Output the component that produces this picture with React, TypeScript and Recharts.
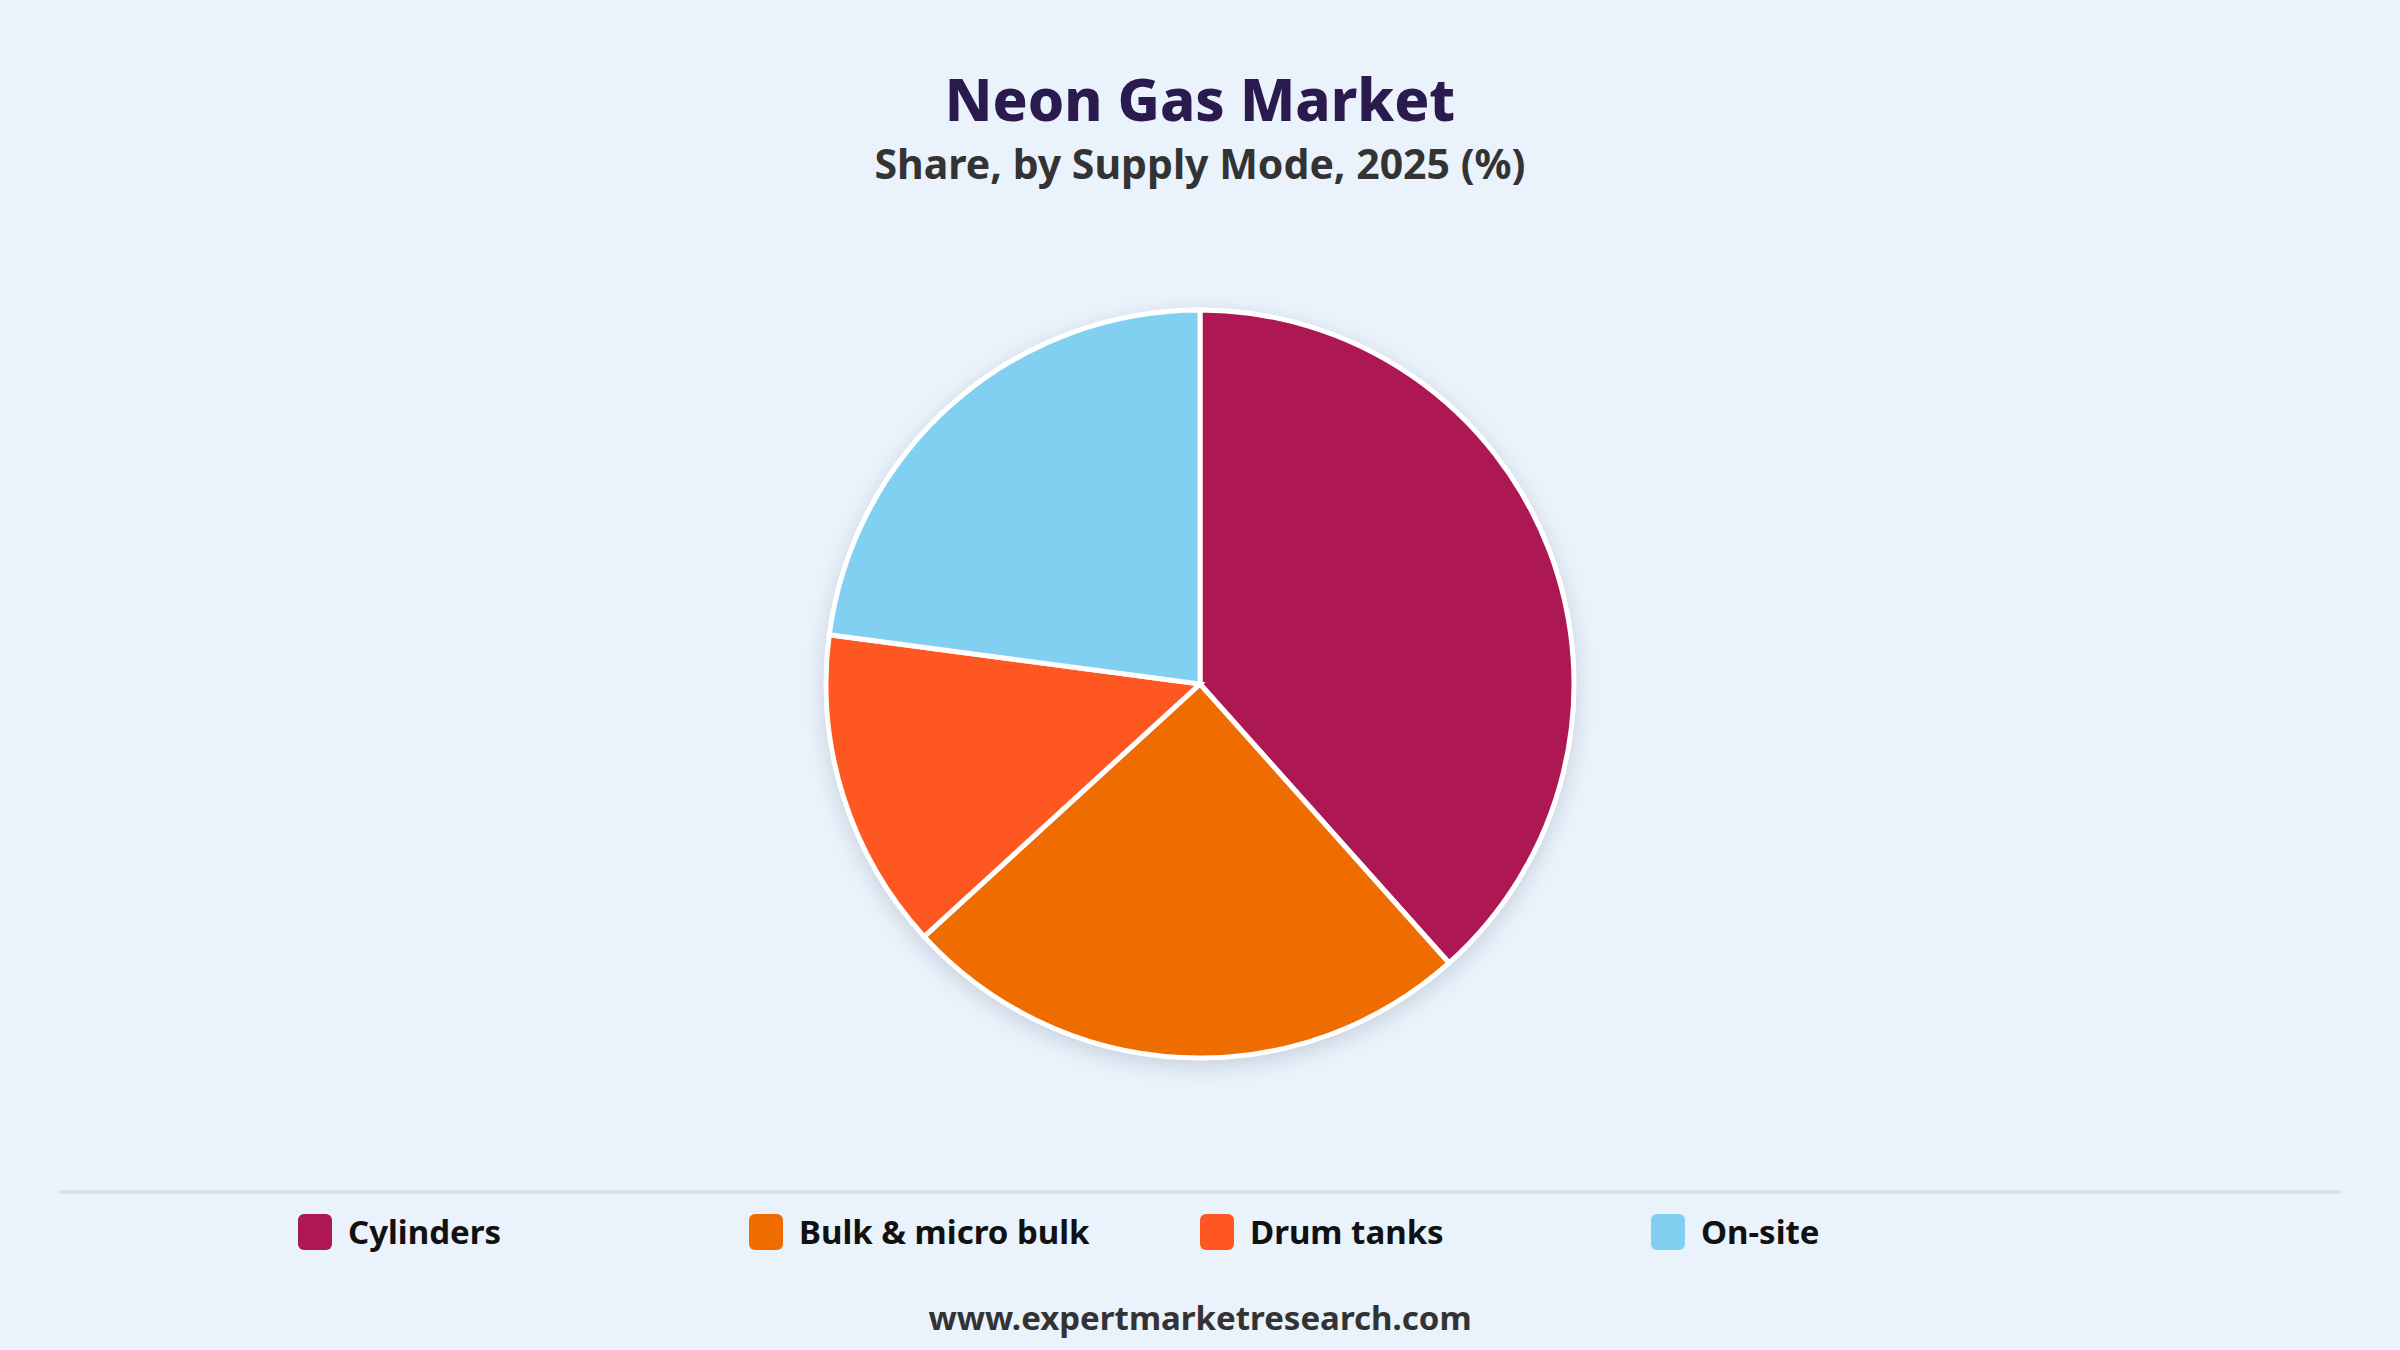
import { PieChart, Pie, Cell } from 'recharts';

const categories = ['Cylinders', 'Bulk & micro bulk', 'Drum tanks', 'On-site'];
const shares = [38.4, 24.8, 13.9, 22.9];
const colors = ['#AD1753', '#EE6C00', '#FF5722', '#81CFF1'];

const data = categories.map((name, i) => ({ name, value: shares[i] }));

const FONT = '"Noto Sans", "Open Sans", sans-serif';

const App = () => {
    return (
        <div
            style={{
                position: 'fixed',
                top: 0,
                left: 0,
                width: 2400,
                height: 1350,
                background: '#EAF2FB',
                fontFamily: FONT,
                overflow: 'hidden',
            }}
        >
            {/* Titles */}
            <div
                style={{
                    position: 'absolute',
                    top: 61,
                    width: '100%',
                    textAlign: 'center',
                    fontSize: 58,
                    fontWeight: 800,
                    color: '#2B1A4E',
                    lineHeight: '76px',
                }}
            >
                Neon Gas Market
            </div>
            <div
                style={{
                    position: 'absolute',
                    top: 138,
                    width: '100%',
                    textAlign: 'center',
                    fontSize: 41,
                    fontWeight: 700,
                    color: '#333333',
                    lineHeight: '50px',
                }}
            >
                Share, by Supply Mode, 2025 (%)
            </div>

            {/* Pie */}
            <div
                style={{
                    position: 'absolute',
                    top: 0,
                    left: 0,
                    filter: 'drop-shadow(0px 6px 10px rgba(40, 60, 90, 0.18))',
                }}
            >
                <PieChart width={2400} height={1350} margin={{ top: 0, right: 0, bottom: 0, left: 0 }}>
                    <Pie
                        data={data}
                        dataKey="value"
                        nameKey="name"
                        cx={1200}
                        cy={684}
                        outerRadius={374}
                        startAngle={90}
                        endAngle={-270}
                        stroke="#ffffff"
                        strokeWidth={5}
                        isAnimationActive={false}
                    >
                        {data.map((d, i) => (
                            <Cell key={d.name} fill={colors[i]} />
                        ))}
                    </Pie>
                </PieChart>
            </div>

            {/* Separator */}
            <div
                style={{
                    position: 'absolute',
                    top: 1190,
                    left: 60,
                    width: 2280,
                    height: 4,
                    background: '#DCDEE2',
                }}
            />

            {/* Legend */}
            <div
                style={{
                    position: 'absolute',
                    top: 1209,
                    left: 298,
                    display: 'flex',
                }}
            >
                {categories.map((c, i) => (
                    <div key={c} style={{ width: 451, display: 'flex', alignItems: 'center' }}>
                        <div
                            style={{
                                width: 34,
                                height: 36,
                                borderRadius: 6,
                                background: colors[i],
                                marginRight: 16,
                            }}
                        />
                        <span style={{ fontSize: 33, fontWeight: 700, color: '#111111' }}>{c}</span>
                    </div>
                ))}
            </div>

            {/* Footer */}
            <div
                style={{
                    position: 'absolute',
                    top: 1296,
                    width: '100%',
                    textAlign: 'center',
                    fontSize: 33,
                    fontWeight: 700,
                    color: '#333333',
                    lineHeight: '44px',
                }}
            >
                www.expertmarketresearch.com
            </div>
        </div>
    );
};

export default App;
